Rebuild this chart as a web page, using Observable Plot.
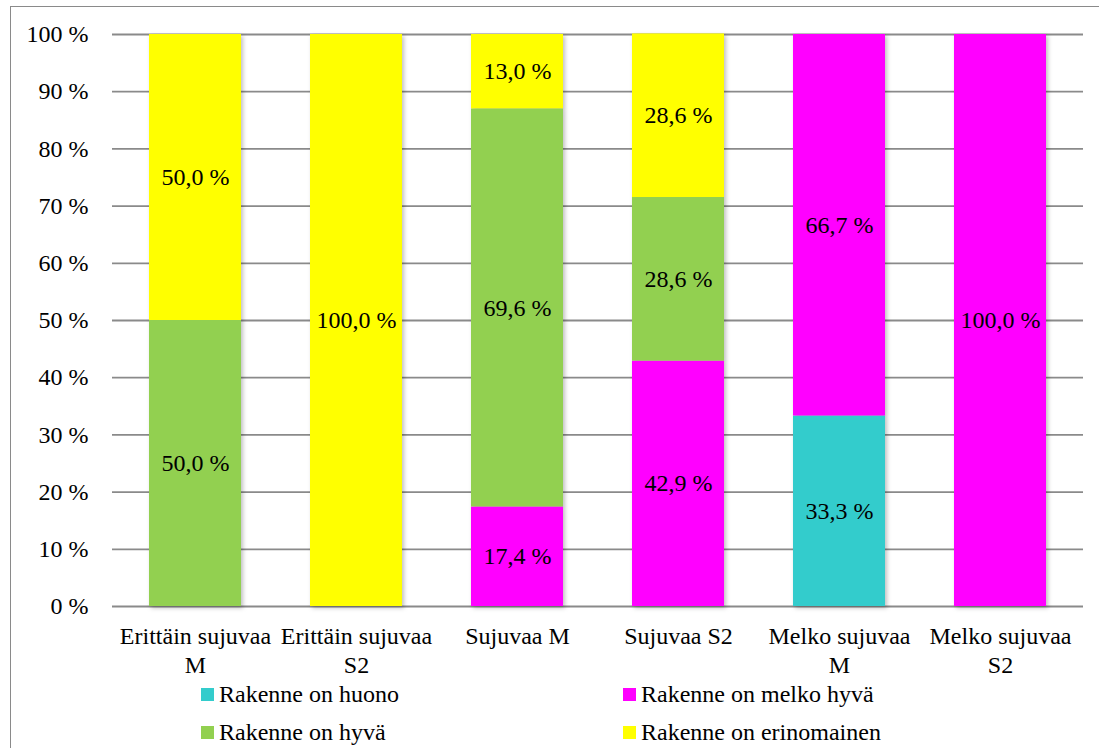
<!DOCTYPE html>
<html>
<head>
<meta charset="utf-8">
<script src="https://cdn.jsdelivr.net/npm/d3@7"></script>
<script src="https://cdn.jsdelivr.net/npm/@observablehq/plot@0.6"></script>
<style>
  html, body { margin: 0; padding: 0; background: #fff; }
  #wrap { position: relative; width: 1099px; height: 748px; overflow: hidden; font-family: "Liberation Serif", "Times New Roman", serif; }
  #frame { position: absolute; left: 10px; top: 6px; width: 1100px; height: 760px; border-left: 1.5px solid #8a8a8a; border-top: 1.5px solid #8a8a8a; }
  #chart { position: absolute; left: 0; top: 0; }
  .legend-item { position: absolute; font-size: 24px; color: #000; white-space: nowrap; line-height: 24px; height: 24px; }
  .legend-item span.sw { position: absolute; left: 0; top: 6px; width: 13px; height: 13px; }
  .legend-item span.lbl { position: absolute; left: 18px; top: 0; }
</style>
</head>
<body>
<div id="wrap">
  <div id="frame"></div>
  <div id="chart"></div>
  <div id="legend"></div>
</div>
<script>
// Categories along the x axis (two-line labels)
const categories = [
  "Erittäin sujuvaa\nM",
  "Erittäin sujuvaa\nS2",
  "Sujuvaa M",
  "Sujuvaa S2",
  "Melko sujuvaa\nM",
  "Melko sujuvaa\nS2"
];

// Series, bottom to top of each stack
const seriesNames = [
  "Rakenne on huono",
  "Rakenne on melko hyvä",
  "Rakenne on hyvä",
  "Rakenne on erinomainen"
];
const seriesColors = ["#33cccc", "#ff00ff", "#92d050", "#ffff00"];

// Percent shares per category, one array per series
const huono       = [0,    0,     0,    0,    33.3, 0];
const melkoHyva   = [0,    0,     17.4, 42.9, 66.7, 100];
const hyva        = [50.0, 0,     69.6, 28.6, 0,    0];
const erinomainen = [50.0, 100.0, 13.0, 28.6, 0,    0];

const yTicks = [0, 10, 20, 30, 40, 50, 60, 70, 80, 90, 100];

const seriesValues = [huono, melkoHyva, hyva, erinomainen];
const rows = [];
categories.forEach((c, i) => {
  seriesNames.forEach((s, k) => {
    const v = seriesValues[k][i];
    if (v > 0) rows.push({category: c, series: s, value: v});
  });
});

const fmtPct = v => d3.format(".1f")(v).replace(".", ",") + " %";

const plot = Plot.plot({
  width: 1099,
  height: 690,
  marginLeft: 112,
  marginRight: 16,
  marginTop: 34,
  marginBottom: 84,
  style: {fontFamily: "'Liberation Serif', 'Times New Roman', serif", fontSize: "24px", color: "#000", background: "transparent"},
  x: {domain: categories, paddingInner: 0.43, paddingOuter: 0.215, label: null},
  y: {domain: [0, 100], label: null},
  color: {domain: seriesNames, range: seriesColors},
  marks: [
    Plot.ruleY(yTicks, {stroke: "#8a8a8a", strokeWidth: 1.8}),
    Plot.barY(rows, Plot.stackY({x: "category", y: "value", z: "series", fill: "series", order: seriesNames})),
    Plot.text(rows, Plot.stackY({x: "category", y: "value", z: "series", order: seriesNames, text: d => fmtPct(d.value), fill: "#000", fontSize: 24})),
    Plot.axisY({ticks: yTicks, tickSize: 0, tickPadding: 24, tickFormat: d => d + " %", fontSize: 24}),
    Plot.axisX({tickSize: 0, tickPadding: 18, lineHeight: 1.17, fontSize: 24})
  ]
});

// Soft shadow under the bars
const barG = plot.querySelector('g[aria-label="bar"]');
if (barG) barG.style.filter = "drop-shadow(2px 2px 2px rgba(0,0,0,0.25))";

document.getElementById("chart").appendChild(plot);

// Legend: two columns, two rows
const legendPos = [
  {x: 201, y: 682}, // huono
  {x: 623, y: 682}, // melko hyvä
  {x: 201, y: 720}, // hyvä
  {x: 623, y: 720}  // erinomainen
];
const legend = document.getElementById("legend");
seriesNames.forEach((s, k) => {
  const el = document.createElement("div");
  el.className = "legend-item";
  el.style.left = legendPos[k].x + "px";
  el.style.top = legendPos[k].y + "px";
  el.innerHTML = `<span class="sw" style="background:${seriesColors[k]}"></span><span class="lbl">${s}</span>`;
  legend.appendChild(el);
});
</script>
</body>
</html>
